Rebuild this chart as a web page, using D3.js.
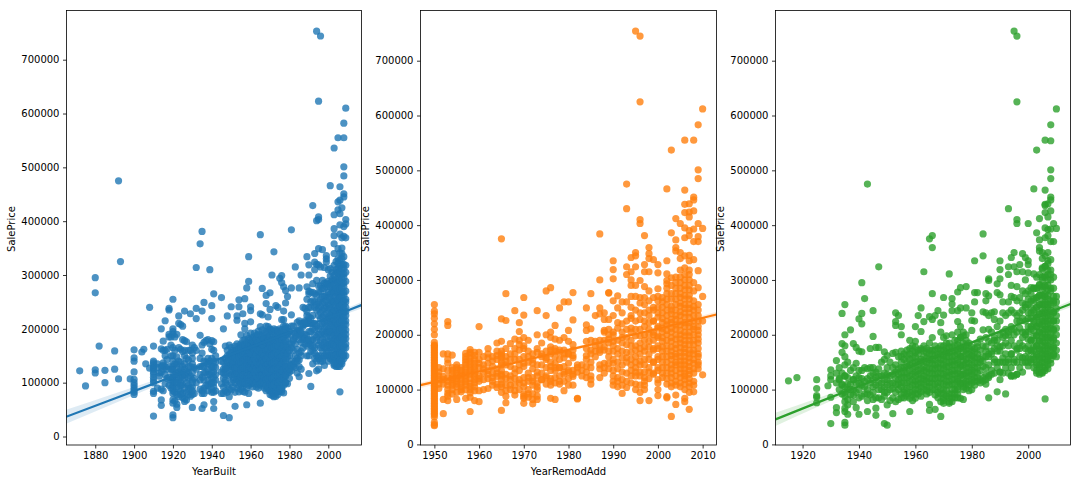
<!DOCTYPE html>
<html>
<head>
<meta charset="utf-8">
<script src="https://cdn.jsdelivr.net/npm/d3@7"></script>
<style>
body {margin: 0; background: #fff;}
text {font-family: "DejaVu Sans"; font-size: 10px; fill: #000;}
</style>
</head>
<body>
<div id="graph"></div>
<script>
// sale prices are in thousands, one list per year
var builtYears = [1872,1875,1880,1882,1885,1890,1892,1893,1898,1900,1904,1905,1906,1908,1910,1912,1913,1914,1915,1916,1917,1918,1919,1920,1921,1922,1923,1924,1925,1926,1927,1928,1929,1930,1931,1932,1934,1935,1936,1937,1938,1939,1940,1941,1942,1945,1946,1947,1948,1949,1950,1951,1952,1953,1954,1955,1956,1957,1958,1959,1960,1961,1962,1963,1964,1965,1966,1967,1968,1969,1970,1971,1972,1973,1974,1975,1976,1977,1978,1979,1980,1981,1982,1983,1984,1985,1986,1987,1988,1989,1990,1991,1992,1993,1994,1995,1996,1997,1998,1999,2000,2001,2002,2003,2004,2005,2006,2007,2008,2009]
var builtPrices = [[122],[94],[295,267,124,118],[168],[123,100],[159,125],[475,107],[325],[107],[161,146,140,120,106,100,95,90,86,82,78],[157],[162],[135],[240,127],[168,140,137,133,128,125,120,116,110,105,100,84,80,38],[135,128,90],[118,112],[200,163,130,120,88,68,58],[177,160,137,132,125,85],[215,160,150,130,115,98],[162,143,125,108],[238,235,190,185,130,110,95],[185,170,150,125,105,90],[255,200,195,190,165,150,140,130,125,118,110,105,100,95,90,85,80,68,62,40,35],[185,160,135,115,100,82,66],[190,148,128,110,92,78,60,54],[224,210,165,140,120,105,88,74],[208,162,138,118,100,84],[205,180,158,130,112,96,80,72],[233,178,150,125,108,90,70,65],[176,145,120,100,82,68],[160,142,118,95,78],[228,160,130,112,90,75],[170,155,135,105,92,85,78,54],[165,128,108,80],[314,238,219,160,125,100],[358,188,145,115],[381,233,170,155,130,110,85,80,52],[249,175,140,118,90,59],[178,138,120,95],[180,145,125,105,85],[310,172,140,115,98],[243,219,178,162,145,128,108,88],[265,176,160,140,120,100,82,65,52],[150,128,105,85],[258,140,120,98,80],[200,138,118,92,80,39],[168,145,125,105,85],[224,160,140,118,96,82],[170,152,132,112,88,74,35],[241,165,148,130,115,100,86],[160,142,122,105,92],[168,155,135,118,100,82,56],[224,216,172,150,132,120,108,90],[254,241,168,155,140,125,110,95,83],[189,172,158,145,130,118,105,88],[228,178,162,148,135,120,108,92,84],[256,210,200,180,165,150,138,125,112,98,82],[276,188,170,155,142,130,118,105,90,59],[334,288,182,165,150,138,122,110,95,80],[241,234,213,192,175,160,148,135,120,108,98],[184,170,155,142,128,115,104,92],[192,178,165,150,138,125,112,100],[188,172,158,145,132,118,105,92],[196,180,165,152,140,126,113,100,90],[375,228,204,188,170,155,142,130,118,106,62],[275,226,198,180,162,148,135,120,108,94],[192,175,160,145,132,118,104,90],[262,247,205,182,168,152,138,125,112,98,85],[222,204,185,170,155,140,128,114,100,88],[267,236,198,175,160,148,132,120,106,92,78],[300,190,170,155,142,128,115,100,85,76],[343,195,172,158,145,130,118,105,92,80,74],[243,198,178,162,148,135,120,108,95,82,75],[240,192,175,160,145,130,118,104,90,78],[294,200,180,165,150,138,124,110,96,84],[299,286,217,190,172,158,142,130,118,105,88,83],[278,233,217,195,175,160,145,132,120,108,81],[271,248,205,188,170,152,138,125,112,100],[260,202,182,165,148,130,118,98],[195,172,150,135,120,108],[384,276,226,190,165,140,122],[205,180,160,130],[315,192,172,150,128],[212,190,162,140,118],[276,215,198,180,155,130,111],[300,210,192,175,158,125],[240,205,185,165],[238,212,190,172],[334,278,232,210,188,168,150],[319,300,270,240,215,195,172,150,117],[268,240,220,195,178,158,93],[429,284,252,225,200,180,160,135],[340,324,310,265,240,210,188,165,145],[753,401,320,290,262,235,205,178,150,122],[623,408,403,349,319,268,250,225,200,170,145,125],[744,315,280,255,230,205,178,150],[347,290,260,235,210,182,160,140],[314,285,260,238,212,190,165,132],[336,330,324,285,262,240,215,195,172,150],[310,288,268,245,222,200,178,158,140],[466,312,285,265,245,225,205,185,165,145],[305,288,270,250,232,215,198,178,160,142],[536,412,386,373,358,290,275,258,242,225,210,195,178,160,145,132],[325,305,285,268,252,235,220,205,190,175,160,145,130],[555,436,421,349,330,312,295,278,262,246,230,215,200,185,170,155,140,130],[464,439,414,393,376,341,318,300,282,266,250,235,220,205,190,175,160,145,135,83],[425,369,340,320,302,285,268,252,238,222,208,192,178,162,148,135],[582,555,501,484,451,445,390,372,334,312,295,278,262,245,230,215,200,185,170,155,145],[610,403,395,369,305,270,250,232,215,198,182,165]]

// the solid part of each cloud
var builtBodyYears = [1922,1924,1926,1928,1930,1934,1936,1938,1940,1941,1942,1946,1947,1948,1950,1951,1952,1953,1954,1955,1956,1957,1958,1959,1960,1961,1962,1963,1964,1965,1966,1967,1968,1969,1970,1971,1972,1973,1974,1975,1976,1977,1978,1979,1980,1981,1982,1983,1984,1985,1986,1987,1988,1989,1990,1991,1992,1993,1994,1995,1996,1997,1998,1999,2000,2001,2002,2003,2004,2005,2006,2007,2008,2009]
var builtBodyPrices = [[100,118,135],[125,110,95,78],[115,135,160],[130,108,88],[145,118,100],[130,105,88],[130,105,80],[135,115,95],[130,118,100,82],[130,110,92],[115,138],[125,108],[130,115,100],[128,138,150],[122,135,142,156],[110,128,148,135],[115,128,146,160],[105,118,128,142,160],[102,118,135,148,162],[98,112,124,138,152,165],[100,114,128,142,155,170],[100,115,130,143,156,170],[98,112,126,136,148,162,175],[102,114,128,144,158,172],[104,114,128,142,154,168,180],[100,112,125,140,165,178],[98,108,120,132,145,160,172,185],[100,112,126,138,152,165,180],[96,108,120,134,146,160,175,190],[98,112,125,136,148,162,178],[100,114,126,140,154,170,186],[98,110,124,138,150,168,182],[94,106,118,132,145,160,175,195],[92,108,120,134,146,162,178,192],[85,98,112,126,140,154,168,186,200],[82,95,108,122,136,150,165,180,196],[80,96,110,124,138,152,166,182,200],[85,102,115,128,142,156,170,185],[84,100,112,125,138,152,168,184,196],[90,105,118,132,146,160,175,190],[92,108,122,136,148,162,180,198],[95,110,125,140,155,170,185,205],[100,115,130,145,160,178,200],[122,155,190],[125,160,195],[132,172,205],[135,178],[140,185],[145,198],[142,188],[150,195],[180,210],[182,215],[178,225,255],[180,222,265],[170,210,250],[168,210,268],[155,198,250],[140,185,245],[150,190,238,280],[140,165,190,218,242,268],[145,170,195,222,248,275],[150,175,200,225,250,275],[155,165,185,205,228,252,278],[150,170,192,212,235,258,282],[150,172,195,218,238,258,278,298],[150,172,190,210,230,252,272,292],[135,150,170,188,205,218,235,250,268,282,300,318,340],[135,152,168,182,198,212,228,244,260,276,292,310],[135,148,162,178,192,208,222,238,254,270,286,304,322],[130,142,155,168,182,198,212,228,242,258,274,290,308,328],[140,155,170,185,200,215,230,245,260,276,294,312,330,350],[150,165,180,192,208,222,238,252,268,285,302,320],[150,172,190,208,225,240,255,288,318]]

var remodYears = [1950,1951,1952,1953,1954,1955,1956,1957,1958,1959,1960,1961,1962,1963,1964,1965,1966,1967,1968,1969,1970,1971,1972,1973,1974,1975,1976,1977,1978,1979,1980,1981,1982,1983,1984,1985,1986,1987,1988,1989,1990,1991,1992,1993,1994,1995,1996,1997,1998,1999,2000,2001,2002,2003,2004,2005,2006,2007,2008,2009,2010]
var remodPrices = [[255,243,238,230,220,210,200,186,180,174,168,162,156,150,144,138,132,126,120,114,108,102,96,90,84,78,72,66,60,54,50,40,36,34],[140,125,102],[165,124,110,82,56],[224,217,165,155,148,122,108,93,80],[163,140,128,118,108,92],[145,136,125,115,105,82],[140,128,118,100,96],[166,155,145,132,120,108,84],[173,165,152,140,128,112,100,86,60],[168,155,142,130,118,105,80],[215,168,155,140,125,115,98,78],[160,145,130,118,100],[175,165,148,135,120,102],[160,142,130,115,108],[185,170,155,138,124,110],[375,229,188,170,165,158,150,145,135,128,118,110,105,95,62],[275,226,175,160,145,128,108,88,76],[184,165,142,125,108,100],[244,192,175,155,138,120,108,90],[222,206,190,172,155,135,118,100],[268,236,195,175,160,142,122,105,92,84,75],[190,170,150,130,115,100,86],[165,155,138,122,108,92,82,74],[244,200,175,145,125,112,100,88,82],[185,165,145,130,118],[280,235,200,170,155,140,125,110],[286,205,195,178,165,150,135,120,108,84],[217,192,175,160,148,135,122,82],[249,190,172,155,140,125,110],[260,195,172,158,142,128,115,98],[260,208,188,165,148,135,120,108],[277,227,182,172,158,135,124,108],[145,140,132,84,83],[145,135,125],[249,218,208,188,162,142,122],[275,211,165,150,118,110],[235,188,170],[300,249,384,238,180,168,138,122],[240,228,208,178,140],[277,276,228,210,192,160,138],[335,319,302,262,235,200,180,155,135,115,108],[271,249,222,212,175,150,122,105],[260,240,195,170,145,118,93],[475,430,324,310,260,225,195,168,150,115,104],[341,315,300,290,270,250,235,212,190,168,145,125],[754,350,344,324,290,270,245,210,180,160,140,125,100],[745,625,410,403,299,268,240,210,185,165,145,125,95,80],[381,328,315,288,268,240,215,190,170,145,122,108],[359,348,339,315,280,262,235,210,188,165,140,120,80],[337,268,245,225,205,190,172,150,130],[328,313,284,270,250,232,212,195,175,155,135,112,89],[260,240,222,205,188,170,150,130],[466,335,311,299,293,275,255,235,218,200,180,160,140,120,87,85],[537,386,304,275,252,238,222,205,188,170,155,138,122,105,51],[412,373,359,353,305,285,265,245,228,210,192,175,160,145,125,108,73],[403,350,339,318,305,285,268,252,235,218,200,185,168,152,138,122,105],[555,464,438,423,395,377,344,322,300,282,265,248,232,215,198,182,168,152,138,125,110,84,78],[439,424,415,390,381,335,318,300,282,265,248,232,215,198,182,165,150,135,120,105,64],[555,451,446,426,393,370,337,295,262,245,225,210,190,172,155,138,115,96],[583,501,485,403,379,370,317,286,255,235,215,200,185,165,150,138],[612,394,270,225,127]]

var remodBodyYears = [1950,1951,1952,1953,1954,1955,1956,1957,1958,1959,1960,1961,1962,1963,1964,1965,1966,1967,1968,1969,1970,1971,1972,1973,1974,1975,1976,1977,1978,1979,1980,1981,1984,1985,1986,1987,1988,1989,1990,1991,1992,1993,1994,1995,1996,1997,1998,1999,2000,2001,2002,2003,2004,2005,2006,2007,2008,2009]
var remodBodyPrices = [[181,177,171,165,159,153,147,141,135,129,123,117,111,105,99,93,87,81,75,69,63,57],[132,118,110],[138,118],[135,115,100,88],[135,122,112,100],[140,130,120,110,95],[135,125,112,105],[160,150,138,126,114,100],[168,158,146,134,120,106,94],[162,148,136,124,112,98],[148,120],[138],[158,128],[152,122],[162,130,104],[162,125],[152,120,98],[155,118],[165,130,98],[182,145,112],[180,148,112,88],[160,122,92],[148,115],[168,132,105],[160,118],[158,122],[172,142,115],[170,140,112],[168,140,115],[165,132],[165,132],[162,128],[175,155,132],[190,172,140,125],[180,160],[190,172,145],[205,190,172,148,130],[200,185,170,148],[205,188,170,148,125],[190,165,138,115],[220,205,185,158,132,108],[210,182,158,130],[230,205,180,155,135,112],[225,198,172,150,132,110],[258,228,198,175,152,132,108],[255,225,200,178,155,132,115,100],[245,222,200,178,155,132],[250,225,200,175,150,128],[262,240,215,198,180,160,140,118,100],[268,250,230,212,195,178,160,140,122],[285,265,245,225,208,190,170,150,130,110],[290,265,245,228,212,195,178,162,145,130,112],[295,275,255,235,218,200,182,165,150,135,115,90],[295,275,258,242,225,208,192,176,160,145,130,112],[310,290,272,255,240,222,205,190,175,160,145,130,118,100],[345,310,290,272,255,240,222,205,190,172,158,142,128,112,95],[280,252,235,215,200,182,165,148,130,108],[245,225,208,192,175,160,145]]

var garageYears = [1915,1918,1925,1929,1930,1932,1933,1934,1935,1936,1937,1938,1939,1940,1941,1942,1943,1944,1945,1946,1947,1948,1949,1950,1951,1952,1953,1954,1955,1956,1957,1958,1959,1960,1961,1962,1963,1964,1965,1966,1967,1968,1969,1970,1971,1972,1973,1974,1975,1976,1977,1978,1979,1980,1981,1982,1983,1984,1985,1986,1987,1988,1989,1990,1991,1992,1993,1994,1995,1996,1997,1998,1999,2000,2001,2002,2003,2004,2005,2006,2007,2008,2009,2010]
var garagePrices = [[116],[122],[118,102,89,86,76],[107],[136,125,118,86,38],[153,130,112,67,58],[140,118,100],[239,184,168,130,108,92],[255,200,180,160,145,125,105,88,66,60,40,35],[150,122,100,82,55],[209,135,110,90],[184,140,118,100,78],[177,148,125,95,67],[229,170,135,112,85,55],[295,239,220,169,135,108,88],[266,140,115,92],[475,120,100,80,60],[175,140,112,90],[244,197,140,118,95,82],[177,132,108,85,66,53],[324,177,138,112,85],[150,125,100,82],[169,155,130,105,88,38],[162,140,118,95,72,35],[150,125,100,80],[166,140,112,85,56],[240,224,217,168,145,120,95,78],[235,160,138,118,100,82],[215,200,170,150,130,112,92],[165,140,122,100,85],[172,150,130,112,92],[190,165,145,125,105,84,60],[180,158,138,118,96,80],[215,188,168,150,132,115,100,84],[235,172,152,135,118,100],[249,206,175,155,138,120,105,88],[315,224,180,160,142,125,110],[175,158,140,122,105,92],[375,233,185,165,148,130,112,95,73,62],[381,359,275,228,195,172,155,138,120,100],[235,180,162,145,128,110,90,64],[244,175,158,140,122,105,85],[222,205,180,165,148,130,112,92,51],[268,236,195,172,155,138,120,100,85,75],[198,175,160,142,125,108,88],[311,185,168,150,132,115,92,75],[266,256,244,200,178,160,145,128,110,92,78],[190,170,152,135,118,100,85],[278,244,224,205,182,165,148,130,115,100,85],[286,249,215,195,175,160,142,125,110,84],[205,185,170,152,135,118,105,82],[288,249,190,172,155,140,125,110],[185,165,148,132,115,98],[240,226,208,178,162,145,128,112],[335,277,260,225,175,158,140,122,108],[277,185,165,148,130,115],[192,172,155,135,118],[384,344,242,209,180,160,142,122],[275,262,240,195,178,160,140,118,110],[302,299,271,235,210,188,165,145,125,85],[240,205,185,165,135],[242,228,195,175,155,130],[293,277,215,190,170,150,96],[335,319,302,273,225,200,178,150,132,118],[260,240,205,180,158,130],[235,210,185,165,140,92],[430,324,310,260,240,205,180,155,130],[341,290,270,245,215,190,165,140,125],[754,350,324,268,240,210,180,150,125],[745,625,410,403,315,288,262,235,205,175,150,128],[328,268,240,212,185,160,140],[348,315,280,258,230,205,180,158,132],[341,300,275,250,225,200,175,150],[403,335,328,313,280,255,230,205,180,158,143],[286,262,240,215,190,170,150],[466,311,285,262,240,220,198,178,160],[537,386,305,285,268,250,232,215,198,180,162,145,130],[412,373,359,353,310,290,272,255,238,220,205,188,172,155,140,128],[350,339,322,305,288,272,255,240,225,210,195,180,165,150,132],[555,464,438,436,423,395,377,344,325,308,290,275,260,245,230,215,200,185,170,155,140,83],[439,415,392,381,335,318,300,282,265,250,235,220,205,190,175,160,145],[583,554,501,485,451,446,426,393,370,337,310,285,262,245,228,212,195,178,162],[403,370,270,258,240,225,210,195,178,165],[612,394,270,225]]

var garageBodyYears = [1933,1934,1935,1936,1937,1938,1939,1940,1941,1942,1943,1944,1945,1946,1947,1948,1949,1950,1951,1952,1953,1954,1955,1956,1957,1958,1959,1960,1961,1962,1963,1964,1965,1966,1967,1968,1969,1970,1971,1972,1973,1974,1975,1976,1977,1978,1979,1980,1981,1982,1983,1984,1985,1986,1987,1988,1989,1990,1991,1992,1993,1994,1995,1996,1997,1998,1999,2000,2001,2002,2003,2004,2005,2006,2007,2008,2009,2010]
var garageBodyPrices = [[120],[110],[125,95,78],[110,72],[100],[118,90],[112],[122,100],[120],[105],[138,92],[125],[130,105],[122],[125,100],[112],[118,95],[128,108],[112],[128,102],[132,108],[128,110],[160,140,122,105,85],[155,132,112,95],[162,142,122,102,88],[175,155,135,115,95],[170,148,128,108,90],[178,160,142,125,108,92],[165,145,128,110,92],[172,150,130,112,96],[170,152,135,118,100],[168,150,132,115,98],[172,155,138,120,105],[165,148,130,112],[172,155,138,120,100],[165,148,130,112,95],[172,155,138,120,100,78],[180,162,145,128,110,92,80],[185,168,150,132,115,98],[178,160,142,125,108,85,78],[170,152,135,118,100,85],[180,162,145,128,110,92],[190,172,155,138,120,105,92],[195,178,160,145,128,112],[198,178,160,145,128,112,100],[200,180,165,148,130,115,102],[175,158,140,125,108],[170,155,135,118,100],[168,150,132,115],[178,158,140,122],[150,112],[152,115],[170,128],[160,122],[170,128],[190,150],[180,140],[170,132],[195,150],[198,150],[200,150],[210,165,125],[200,155],[225,172,128],[225,175],[245,195,150],[255,205,160],[265,240,215,192,170,150],[275,250,230,210,190,172,155],[285,265,245,225,208,190,172,155,140],[285,268,250,232,215,198,180,165,150,135],[292,272,255,238,222,205,190,175,160,145,132],[320,300,282,265,248,232,218,202,188,172,158,142,130],[325,305,288,270,255,240,225,210,195,180,165,150,135],[350,330,310,290,272,255,240,225,210,195,180,165,152,138],[318,300,280,255,235,218,202,188,172,155,148],[305,285,262,242,225,208,190,175,162],[260,248,235,212,200,185,172,160]]

// regression line and its band, read at a few years
var builtFitX = [1865,1890,1920,1950,1971,1990,2010,2017]
var builtFitY = [36.6,70.7,111.6,152.5,181,207,234,244]
var builtFitLo = [23.6,61.7,106.6,149.5,178.5,204,229,238]
var builtFitHi = [49.6,79.7,116.6,155.5,183.5,210,239,250]

var remodFitX = [1946.9,1960,1975,1985,2000,2013.1]
var remodFitY = [108,133,163,182,211,237]
var remodFitLo = [103,130,160.5,179,208,232]
var remodFitHi = [113,136,165.5,185,214,242]

var garageFitX = [1910.4,1925,1940,1960,1978,2000,2015]
var garageFitY = [45.6,75.7,106,146,182,226,256]
var garageFitLo = [33.6,67.7,101,143,179.5,222,250]
var garageFitHi = [57.6,83.7,111,149,184.5,230,262]

var priceTicks = [0,100000,200000,300000,400000,500000,600000,700000]

var panels = [
  {name: 'YearBuilt', color: '#1f77b4', years: builtYears, prices: builtPrices, bodyYears: builtBodyYears, bodyPrices: builtBodyPrices,
    fit: [builtFitX, builtFitY, builtFitLo, builtFitHi], ticks: d3.range(1880, 2001, 20),
    left: 66.5, right: 361.5, domain: [1865.2, 2017.1], zero: 436.5, peak: 59.7, label: 11.7},
  {name: 'YearRemodAdd', color: '#ff7f0e', years: remodYears, prices: remodPrices, bodyYears: remodBodyYears, bodyPrices: remodBodyPrices,
    fit: [remodFitX, remodFitY, remodFitLo, remodFitHi], ticks: d3.range(1950, 2011, 10),
    left: 420.5, right: 716.5, domain: [1946.9, 2013.1], zero: 444.4, peak: 60.7, label: 365.7},
  {name: '', color: '#2ca02c', years: garageYears, prices: garagePrices, bodyYears: garageBodyYears, bodyPrices: garageBodyPrices,
    fit: [garageFitX, garageFitY, garageFitLo, garageFitHi], ticks: d3.range(1920, 2001, 20),
    left: 775.5, right: 1070.5, domain: [1910.4, 2015], zero: 444.4, peak: 60.7, label: 720.7},
]

var svg = d3.select('#graph').append('svg')
  .attr('width', 1080).attr('height', 483)
  .style('display', 'block')

var plotTop = 10.5, plotBottom = 445

function toPoints(years, prices){
  return years.flatMap((d, j) => prices[j].map(v => [d, v*1000]))
}

panels.forEach(function(p, i){
  var x = d3.scaleLinear().domain(p.domain).range([p.left, p.right])
  var y = d3.scaleLinear().domain([0, 700000]).range([p.zero, p.peak])

  svg.append('clipPath').attr('id', 'clip' + i)
    .append('rect')
    .attr('x', p.left).attr('y', plotTop)
    .attr('width', p.right - p.left).attr('height', plotBottom - plotTop)

  var g = svg.append('g').attr('clip-path', 'url(#clip' + i + ')')

  var points = toPoints(p.years, p.prices).concat(toPoints(p.bodyYears, p.bodyPrices))

  g.selectAll('circle').data(points).join('circle')
    .attr('cx', d => x(d[0]))
    .attr('cy', d => y(d[1]))
    .attr('r', 3.6)
    .attr('fill', p.color)
    .attr('fill-opacity', .8)

  var [fx, fy, lo, hi] = p.fit

  g.append('path')
    .attr('d', d3.area()
      .x(d => x(d))
      .y0((d, j) => y(lo[j]*1000))
      .y1((d, j) => y(hi[j]*1000))
      .curve(d3.curveMonotoneX)(fx))
    .attr('fill', p.color)
    .attr('fill-opacity', .15)

  g.append('path')
    .attr('d', d3.line()
      .x(d => x(d))
      .y((d, j) => y(fy[j]*1000))(fx))
    .attr('fill', 'none')
    .attr('stroke', p.color)
    .attr('stroke-width', 2.25)

  svg.append('rect')
    .attr('x', p.left).attr('y', plotTop)
    .attr('width', p.right - p.left).attr('height', plotBottom - plotTop)
    .attr('fill', 'none')
    .attr('stroke', '#000')
    .attr('stroke-width', .8)

  var xAxis = svg.append('g')
    .attr('transform', 'translate(0,' + plotBottom + ')')
    .call(d3.axisBottom(x).tickValues(p.ticks).tickFormat(d3.format('d')).tickSize(3.5).tickPadding(3.5))
  var yAxis = svg.append('g')
    .attr('transform', 'translate(' + p.left + ',0)')
    .call(d3.axisLeft(y).tickValues(priceTicks).tickFormat(d3.format('d')).tickSize(3.5).tickPadding(3.5))

  ;[xAxis, yAxis].forEach(a => {
    a.select('.domain').remove()
    a.selectAll('line').attr('stroke', '#000').attr('stroke-width', .8)
    a.selectAll('text').style('font-family', '"DejaVu Sans"').style('font-size', '10px')
  })

  svg.append('text')
    .attr('x', (p.left + p.right)/2).attr('y', 475)
    .attr('text-anchor', 'middle')
    .text(p.name)

  svg.append('text')
    .attr('transform', 'translate(' + (p.label + 3.5) + ',' + 229 + ') rotate(-90)')
    .attr('text-anchor', 'middle')
    .text('SalePrice')
})
</script>
</body>
</html>
